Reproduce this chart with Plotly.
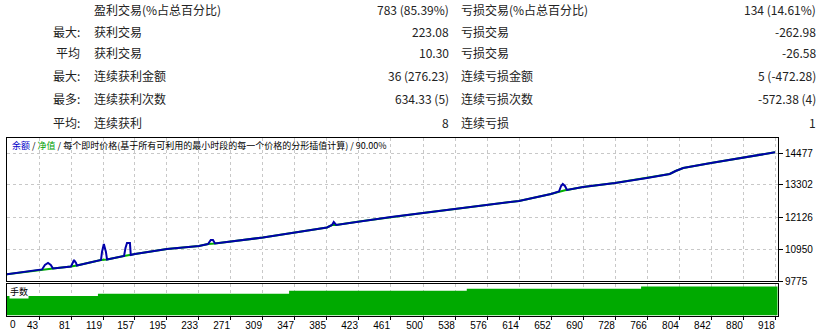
import plotly.graph_objects as go

W, H = 836, 332

# ---- summary table ----
row_prefix = ["", "最大:", "平均", "最大:", "最多:", "平均:"]
win_labels = ["盈利交易(%占总百分比)", "获利交易", "获利交易", "连续获利金额", "连续获利次数", "连续获利"]
win_values = ["783 (85.39%)", "223.08", "10.30", "36 (276.23)", "634.33 (5)", "8"]
loss_labels = ["亏损交易(%占总百分比)", "亏损交易", "亏损交易", "连续亏损金额", "连续亏损次数", "连续亏损"]
loss_values = ["134 (14.61%)", "-262.98", "-26.58", "5 (-472.28)", "-572.38 (4)", "1"]

# ---- balance / equity curve ----
trades = [0, 43, 46.6, 50, 53.7, 57, 59.6, 81, 83, 84.6, 87, 88, 116.6, 117.8, 120, 122.5, 123.8,
          144, 145.7, 147.5, 151, 152, 157, 195, 233, 243.7, 247, 249.6, 252, 271, 309, 347,
          385, 391, 393, 396, 423, 461, 499, 537, 575, 613, 651, 660.5, 663, 665, 667.6, 670,
          689, 727, 765, 792, 799, 808, 841, 879, 917]
balance = [10000, 10179, 10200, 10363, 10436, 10363, 10234, 10308, 10473, 10546, 10436, 10345,
           10546, 10840, 11134, 10840, 10565, 10693, 10987, 11171, 11171, 10730, 10767, 10950,
           11061, 11134, 11281, 11281, 11153, 11226, 11373, 11557, 11740, 11832, 11942, 11832,
           11961, 12126, 12273, 12420, 12567, 12714, 12971, 13063, 13265, 13338, 13265, 13118,
           13228, 13375, 13559, 13706, 13816, 13926, 14110, 14294, 14503]
equity = [10000, 10179, 10200, 10210, 10220, 10228, 10234, 10308, 10318, 10326, 10336, 10345,
          10546, 10549, 10554, 10561, 10565, 10693, 10700, 10708, 10722, 10730, 10767, 10950,
          11061, 11134, 11141, 11147, 11153, 11226, 11373, 11557, 11740, 11832, 11832, 11832,
          11961, 12126, 12273, 12420, 12567, 12714, 12971, 13063, 13075, 13090, 13105, 13118,
          13228, 13375, 13559, 13706, 13816, 13926, 14110, 14294, 14503]

# ---- lots ----
lot_trades = [0, 113, 340, 551, 758, 920]
lots = [0.19, 0.21, 0.24, 0.26, 0.28, 0.28]

x_tick_vals = [0, 43, 81, 119, 157, 195, 233, 271, 309, 347, 385, 423, 461, 500, 538, 576, 614,
               652, 690, 728, 766, 804, 842, 880, 918]
x_tick_text = [str(v) for v in x_tick_vals]
y_tick_vals = [9775, 10950, 12126, 13302, 14477]
y_tick_text = [str(v) for v in y_tick_vals]

title_parts = [("余额", "#0000C8"), (" / ", "#000000"), ("净值", "#00A000"),
               (" / 每个即时价格(基于所有可利用的最小时段的每一个价格的分形插值计算) / 90.00%", "#000000")]
lots_label = "手数"

BLUE = "#0000AA"
GREEN = "#00AA00"
GRID = "#c8c8c8"
TICKFONT = dict(family="Liberation Sans", size=10, color="#000000")
CJK = "Noto Sans CJK SC"

fig = go.Figure()
fig.add_trace(go.Scatter(x=lot_trades, y=lots, mode="lines", line=dict(width=0, shape="hv"),
                         fill="tozeroy", fillcolor=GREEN, xaxis="x", yaxis="y", hoverinfo="skip"))
fig.add_trace(go.Scatter(x=trades, y=equity, mode="lines", line=dict(color="#00B000", width=2),
                         xaxis="x2", yaxis="y2"))
fig.add_trace(go.Scatter(x=trades, y=balance, mode="lines", line=dict(color=BLUE, width=2),
                         xaxis="x2", yaxis="y2"))

xdom = [7 / W, 778 / W]
xr = [5, 920.6]
main_dom = [1 - 281 / H, 1 - 138 / H]
lots_dom = [1 - 315.5 / H, 1 - 283.5 / H]

fig.update_layout(
    width=W, height=H, margin=dict(l=0, r=0, t=0, b=0, autoexpand=False),
    paper_bgcolor="white", plot_bgcolor="white", showlegend=False,
    xaxis=dict(domain=xdom, anchor="y", range=xr, tickvals=x_tick_vals, ticktext=x_tick_text,
               automargin=False,
               ticks="outside", ticklen=3, tickcolor="#000000", tickfont=TICKFONT,
               ticklabelposition="outside left",
               showgrid=True, gridcolor=GRID, griddash="3px,3px", gridwidth=1,
               showline=True, mirror=True, linecolor="#000000", linewidth=1, zeroline=False),
    yaxis=dict(domain=lots_dom, anchor="x", range=[0, 0.31], showticklabels=False, ticks="",
               automargin=False,
               showgrid=False, zeroline=False, showline=True, mirror=True,
               linecolor="#000000", linewidth=1),
    xaxis2=dict(domain=xdom, anchor="y2", matches="x", range=xr, tickvals=x_tick_vals,
                showticklabels=False, ticks="", automargin=False,
                showgrid=True, gridcolor=GRID, griddash="3px,3px", gridwidth=1,
                showline=True, mirror=True, linecolor="#000000", linewidth=1, zeroline=False),
    yaxis2=dict(domain=main_dom, anchor="x2", side="right", range=[9775, 15028],
                tickvals=y_tick_vals, ticktext=y_tick_text, ticks="outside", ticklen=4,
                tickcolor="#000000", automargin=False,
                tickfont=TICKFONT, showgrid=True, gridcolor=GRID, griddash="3px,3px", gridwidth=1,
                showline=True, mirror=True, linecolor="#000000", linewidth=1, zeroline=False),
)

ann = []
rows_y = [9, 31, 53, 76, 99, 122]
cols = [(row_prefix, 82, "right"), (win_labels, 92, "left"), (win_values, 451, "right"),
        (loss_labels, 459, "left"), (loss_values, 818, "right")]
for texts, px, anchor in cols:
    for t, py in zip(texts, rows_y):
        if not t:
            continue
        ann.append(dict(text=t, xref="paper", yref="paper", x=px / W, y=1 - py / H,
                        xanchor=anchor, yanchor="middle", showarrow=False,
                        font=dict(family=CJK, size=12, color="#222222")))

title_html = "".join(f'<span style="color:{c}">{t}</span>' for t, c in title_parts)
ann.append(dict(text=title_html, xref="paper", yref="paper", x=10 / W, y=1 - 146 / H,
                xanchor="left", yanchor="middle", showarrow=False,
                font=dict(family=CJK, size=9, color="#000000")))
ann.append(dict(text=lots_label, xref="paper", yref="paper", x=9 / W, y=1 - 291 / H,
                xanchor="left", yanchor="middle", showarrow=False, bgcolor="white",
                borderpad=0, font=dict(family=CJK, size=9, color="#000000")))
ann.append(dict(text=x_tick_text[0], xref="paper", yref="paper", x=8 / W, y=1 - 324 / H,
                xanchor="left", yanchor="middle", showarrow=False, font=TICKFONT))
fig.update_layout(annotations=ann)

fig.write_html("out.html")
